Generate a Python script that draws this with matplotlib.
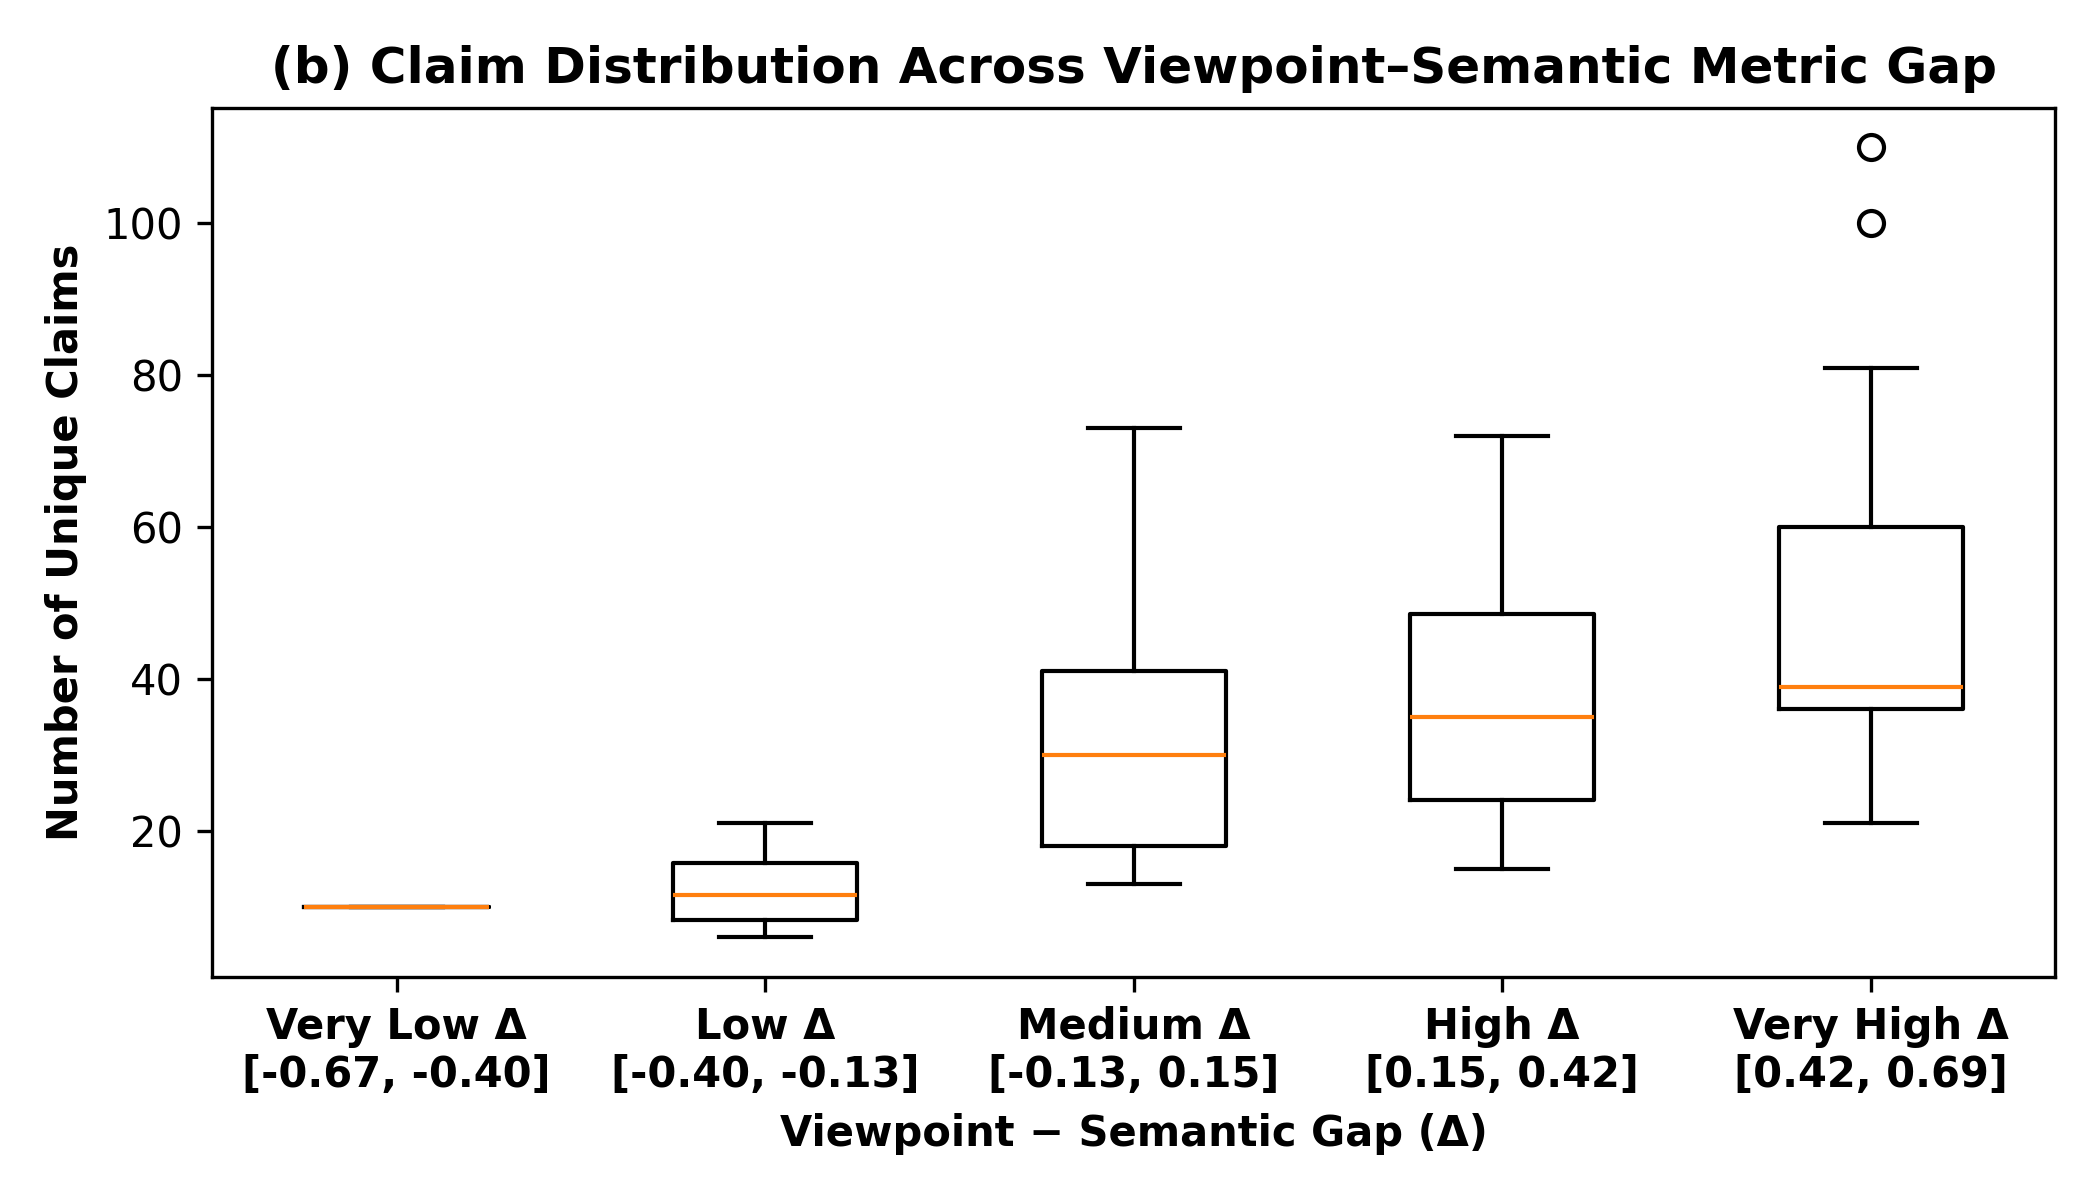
import matplotlib
matplotlib.use("Agg")
import matplotlib.pyplot as plt

# Box statistics
groups = ["Very Low Δ\n[-0.67, -0.40]", "Low Δ\n[-0.40, -0.13]", "Medium Δ\n[-0.13, 0.15]",
          "High Δ\n[0.15, 0.42]", "Very High Δ\n[0.42, 0.69]"]
whislo = [10, 6, 13, 15, 21]
q1 = [10, 8.3, 18, 24, 36]
med = [10, 11.5, 30, 35, 39]
q3 = [10, 15.7, 41, 48.5, 60]
whishi = [10, 21, 73, 72, 81]
fliers = [[], [], [], [], [100, 110]]

stats = []
for i in range(len(groups)):
    stats.append({"whislo": whislo[i], "q1": q1[i], "med": med[i], "q3": q3[i],
                  "whishi": whishi[i], "fliers": fliers[i], "label": groups[i]})

fig, ax = plt.subplots(figsize=(7, 4), dpi=300)
ax.bxp(stats, widths=0.5)
ax.set_title("(b) Claim Distribution Across Viewpoint–Semantic Metric Gap", fontsize=12, fontweight="bold")
ax.set_xlabel("Viewpoint − Semantic Gap (Δ)", fontweight="bold")
ax.set_ylabel("Number of Unique Claims", fontweight="bold")
for lbl in ax.get_xticklabels():
    lbl.set_fontweight("bold")
plt.tight_layout()
plt.savefig("out.png", dpi=300)
